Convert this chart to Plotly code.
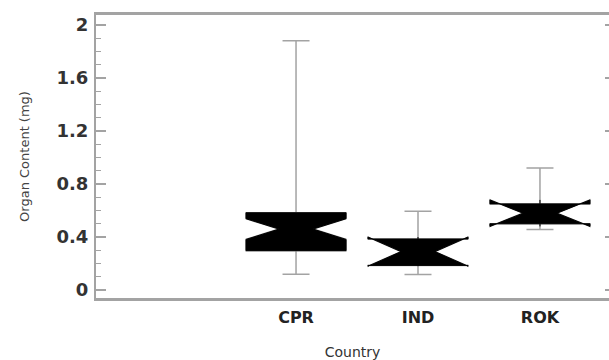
import plotly.graph_objects as go

countries = ["CPR", "IND", "ROK"]
q1 = [0.297, 0.186, 0.50]
median = [0.46, 0.29, 0.58]
q3 = [0.583, 0.385, 0.65]
lowerfence = [0.12, 0.117, 0.456]
upperfence = [1.88, 0.595, 0.92]
notchspan = [0.078, 0.11, 0.10]

y_ticks = [0, 0.4, 0.8, 1.2, 1.6, 2]
y_ticktext = ["0", "0.4", "0.8", "1.2", "1.6", "2"]

GRAY = "#a3a3a3"
yr = [-0.06, 2.075]

fig = go.Figure()
# whiskers (gray)
fig.add_trace(go.Box(
    x=countries, q1=q1, median=median, q3=q3,
    lowerfence=lowerfence, upperfence=upperfence,
    notched=True, notchspan=notchspan, notchwidth=0.33,
    width=0.82, whiskerwidth=0.27,
    fillcolor="black", line=dict(color=GRAY, width=1.5),
    boxpoints=False, showlegend=False, hoverinfo="skip",
))
# black box on top
fig.add_trace(go.Box(
    x=countries, q1=q1, median=median, q3=q3,
    lowerfence=q1, upperfence=q3,
    notched=True, notchspan=notchspan, notchwidth=0.33,
    width=0.82, whiskerwidth=0,
    fillcolor="black", line=dict(color="black", width=1),
    boxpoints=False, showlegend=False, hoverinfo="skip",
))
# helper for right-side ticks
fig.add_trace(go.Scatter(x=["CPR"], y=[None], yaxis="y2", showlegend=False,
                         hoverinfo="skip", mode="markers"))

fig.update_layout(
    width=609, height=360,
    margin=dict(l=96, r=0, t=15, b=62),
    paper_bgcolor="white", plot_bgcolor="white",
    boxmode="overlay",
    font=dict(family="DejaVu Sans", color="#222"),
    xaxis=dict(
        type="category", categoryorder="array", categoryarray=countries,
        range=[-1.64, 2.566],
        showline=True, linecolor=GRAY, linewidth=3, mirror=True,
        showgrid=False, zeroline=False, ticks="",
        tickfont=dict(family="DejaVu Sans", size=16, color="#222", weight="bold"),
        ticklabelstandoff=3,
        title=dict(text="Country", font=dict(family="DejaVu Sans", size=14, color="#333"), standoff=24),
    ),
    yaxis=dict(
        range=yr,
        tickvals=y_ticks, ticktext=y_ticktext,
        showline=True, linecolor=GRAY, linewidth=2, mirror=False,
        showgrid=False, zeroline=False,
        ticks="inside", ticklen=10, tickwidth=1.5, tickcolor=GRAY,
        minor=dict(dtick=0.1, ticks="inside", ticklen=5, tickwidth=1.2, tickcolor=GRAY, showgrid=False),
        tickfont=dict(family="DejaVu Sans", size=18, color="#333", weight="bold"),
        ticklabelstandoff=2,
        title=dict(text="Organ Content (mg)", font=dict(family="DejaVu Sans", size=13, color="#444"), standoff=24),
    ),
    yaxis2=dict(
        range=yr, overlaying="y", side="right",
        tickvals=y_ticks, showticklabels=False,
        ticks="inside", ticklen=4, tickwidth=1.5, tickcolor=GRAY,
        showline=False, showgrid=False, zeroline=False,
    ),
)

fig.write_html("out.html")
